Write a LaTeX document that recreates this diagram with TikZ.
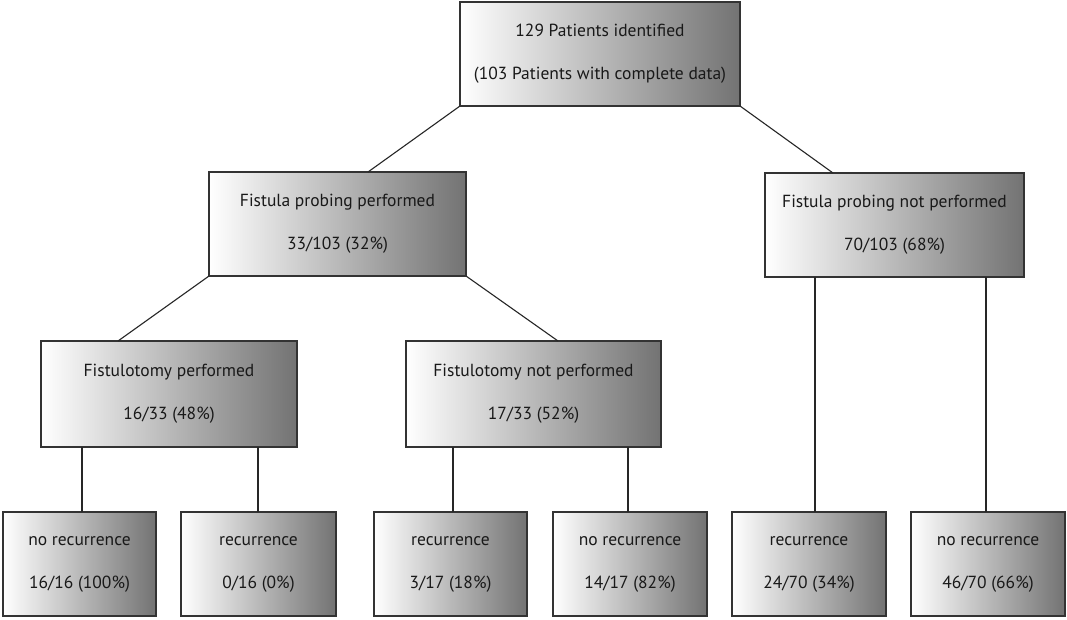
\documentclass[tikz,border=0pt]{standalone}
\usepackage{fontspec}
\setmainfont{PT Sans}
\begin{document}
\begin{tikzpicture}[x=1pt,y=-1pt,
  box/.style={draw=black!80,line width=1.3pt,left color=white,right color=black!55,
    anchor=north west,inner sep=0pt,outer sep=0pt,align=center,
    font=\fontsize{17.5}{22}\selectfont,text=black!90},
  link/.style={draw=black!85,line width=1.1pt}]
\useasboundingbox (0,0) rectangle (1067,620);
\fill[white] (0,0) rectangle (1067,620);
\node[box,minimum width=280pt,minimum height=104pt] (top) at (460,2) {129 Patients identified\\[21pt](103 Patients with complete data)};
\node[box,minimum width=257pt,minimum height=104pt] (pp) at (209,172) {Fistula probing performed\\[21pt]33/103 (32\%)};
\node[box,minimum width=259pt,minimum height=104pt] (pn) at (765,173) {Fistula probing not performed\\[21pt]70/103 (68\%)};
\node[box,minimum width=256pt,minimum height=106pt] (fp) at (41,341) {Fistulotomy performed\\[21pt]16/33 (48\%)};
\node[box,minimum width=255pt,minimum height=106pt] (fn) at (406,341) {Fistulotomy not performed\\[21pt]17/33 (52\%)};
\node[box,minimum width=153pt,minimum height=104pt] (b1) at (3,512) {no recurrence\\[21pt]16/16 (100\%)};
\node[box,minimum width=155pt,minimum height=104pt] (b2) at (181,512) {recurrence\\[21pt]0/16 (0\%)};
\node[box,minimum width=153pt,minimum height=104pt] (b3) at (374,512) {recurrence\\[21pt]3/17 (18\%)};
\node[box,minimum width=154pt,minimum height=104pt] (b4) at (553,512) {no recurrence\\[21pt]14/17 (82\%)};
\node[box,minimum width=154pt,minimum height=104pt] (b5) at (732,512) {recurrence\\[21pt]24/70 (34\%)};
\node[box,minimum width=154pt,minimum height=104pt] (b6) at (911,512) {no recurrence\\[21pt]46/70 (66\%)};
\draw[link] (top.south west) -- ([xshift=159pt]pp.north west);
\draw[link] (top.south east) -- ([xshift=68pt]pn.north west);
\draw[link] (pp.south west) -- ([xshift=77pt]fp.north west);
\draw[link] (pp.south east) -- ([xshift=152pt]fn.north west);
\draw[link] ([xshift=79pt]b1.north west) -- ([xshift=79pt]b1.north west |- fp.south);
\draw[link] ([xshift=77pt]b2.north west) -- ([xshift=77pt]b2.north west |- fp.south);
\draw[link] ([xshift=79pt]b3.north west) -- ([xshift=79pt]b3.north west |- fn.south);
\draw[link] ([xshift=75pt]b4.north west) -- ([xshift=75pt]b4.north west |- fn.south);
\draw[link] ([xshift=83pt]b5.north west) -- ([xshift=83pt]b5.north west |- pn.south);
\draw[link] ([xshift=75pt]b6.north west) -- ([xshift=75pt]b6.north west |- pn.south);
\end{tikzpicture}
\end{document}
